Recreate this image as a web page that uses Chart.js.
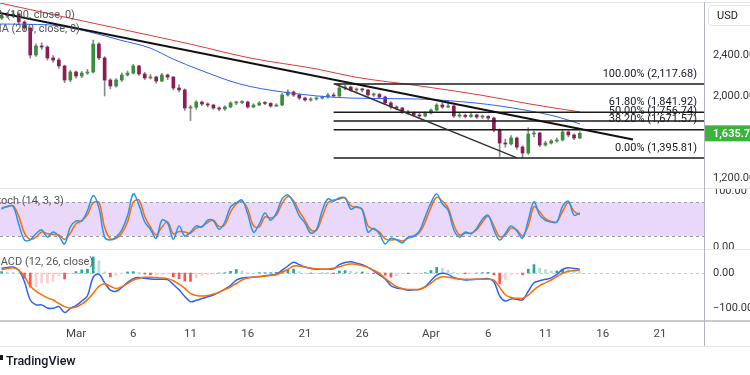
<!DOCTYPE html>
<html>
<head>
<meta charset="utf-8">
<script src="https://cdn.jsdelivr.net/npm/chart.js@4.4.1/dist/chart.umd.min.js"></script>
<style>
  body { margin: 0; background: #fff; font-family: Roboto, "Liberation Sans", sans-serif; }
  #wrap { position: relative; width: 750px; height: 375px; overflow: hidden; background: #fff; }
  canvas { position: absolute; left: 0; }
  .legend { position: absolute; font-size: 11px; color: #555; white-space: nowrap; line-height: 14px; }
  .hline { position: absolute; left: 0; width: 750px; height: 1px; background: #e0e3eb; }
</style>
</head>
<body>
<div id="wrap">
  <canvas id="priceChart" width="750" height="188" style="top:0"></canvas>
  <canvas id="stochChart" width="750" height="61" style="top:188px"></canvas>
  <canvas id="macdChart" width="750" height="97" style="top:249px"></canvas>

  <div class="hline" style="top:2px"></div>
  <div class="hline" style="top:188px"></div>
  <div class="hline" style="top:249px"></div>
  <div class="hline" style="top:320px;height:2px;background:#c9cbd1"></div>
  <div class="hline" style="top:346px"></div>
  <div style="position:absolute;left:704px;top:2px;width:1px;height:344px;background:#b2b5be"></div>

  <div class="legend" style="left:-13px;top:8px">MA (100, close, 0)</div>
  <div class="legend" style="left:-8px;top:22px">MA (200, close, 0)</div>
  <div class="legend" style="left:-9px;top:194px">Stoch (14, 3, 3)</div>
  <div class="legend" style="left:-9px;top:255px">MACD (12, 26, close)</div>

  <div style="position:absolute;left:708px;top:5px;width:50px;height:19px;border:1px solid #e0e3eb;border-radius:4px;font-size:11px;line-height:19px;color:#131722;padding-left:8px">USD</div>

  <div style="position:absolute;left:0;top:355px;width:3px;height:5px;background:#131722"></div>
  <div style="position:absolute;left:6px;top:353px;font-size:12.5px;color:#131722;font-weight:500">TradingView</div>
</div>

<script>
// ETH/USD 12h candles, Feb 22 - Apr 14, with MAs, fib levels, Stoch and MACD panes
const FONT = 'Roboto, "Liberation Sans", sans-serif';

// x axis is in days counted from Mar 1
const X_MIN = -6.64;
const X_MAX = 54.85;
const FIRST_DAY = -6.5;   // first candle
const STEP = 0.5;         // 12h candles

const timeTickDays = [0, 5, 10, 15, 20, 25, 31, 36, 41, 46, 51];
const timeTickLabels = ['Mar', '6', '11', '16', '21', '26', 'Apr', '6', '11', '16', '21'];

const opens = [
  2760, 2780, 2790, 2800, 2722, 2663, 2400, 2488, 2478, 2371,
  2351, 2293, 2156, 2234, 2195, 2224, 2234, 2507, 2371, 2156,
  2098, 2156, 2205, 2224, 2293, 2215, 2176, 2185, 2146, 2205,
  2185, 2078, 2059, 1883, 1890, 1941, 1922, 1912, 1883, 1873,
  1893, 1932, 1936, 1941, 1893, 1912, 1932, 1928, 1902, 1912,
  2010, 2039, 2010, 1980, 1961, 1971, 1980, 1990, 2010, 2000,
  2078, 2088, 2059, 2068, 2059, 2010, 2015, 1990, 1932, 1893,
  1883, 1844, 1834, 1815, 1805, 1834, 1863, 1912, 1893, 1902,
  1805, 1812, 1800, 1815, 1795, 1800, 1785, 1668, 1541, 1532,
  1590, 1502, 1444, 1629, 1639, 1522, 1541, 1561, 1571, 1649,
  1620, 1590
];
const highs = [
  2800, 2815, 2830, 2812, 2735, 2675, 2510, 2520, 2490, 2395,
  2370, 2300, 2250, 2245, 2240, 2260, 2546, 2520, 2385, 2170,
  2170, 2225, 2245, 2310, 2300, 2230, 2210, 2195, 2220, 2215,
  2190, 2110, 2070, 1910, 1955, 1950, 1935, 1920, 1895, 1905,
  1945, 1950, 1955, 1950, 1925, 1945, 1945, 1935, 1925, 2025,
  2060, 2050, 2020, 1990, 1985, 1995, 2000, 2025, 2030, 2118,
  2104, 2095, 2080, 2075, 2065, 2030, 2025, 2000, 1945, 1905,
  1890, 1860, 1845, 1830, 1845, 1875, 1925, 1935, 1950, 1910,
  1830, 1825, 1830, 1825, 1815, 1810, 1795, 1680, 1580, 1615,
  1600, 1515, 1690, 1660, 1645, 1560, 1575, 1590, 1665, 1660,
  1630, 1650
];
const lows = [
  2745, 2765, 2770, 2705, 2640, 2370, 2385, 2455, 2350, 2330,
  2270, 2130, 2140, 2175, 2180, 2210, 2225, 2355, 2000, 2070,
  2085, 2140, 2195, 2215, 2200, 2160, 2165, 2125, 2140, 2160,
  2060, 2040, 1860, 1760, 1870, 1905, 1895, 1870, 1855, 1860,
  1885, 1915, 1925, 1880, 1885, 1905, 1915, 1890, 1895, 1905,
  2000, 1995, 1965, 1950, 1950, 1960, 1970, 1980, 1990, 1995,
  2060, 2045, 2040, 2040, 1995, 1995, 1975, 1920, 1875, 1865,
  1830, 1820, 1800, 1790, 1795, 1825, 1855, 1880, 1885, 1790,
  1790, 1785, 1790, 1780, 1780, 1770, 1650, 1410, 1500, 1520,
  1480, 1396, 1430, 1600, 1505, 1510, 1530, 1550, 1560, 1600,
  1575, 1585
];
const closes = [
  2780, 2790, 2800, 2722, 2663, 2400, 2488, 2478, 2371, 2351,
  2293, 2156, 2234, 2195, 2224, 2234, 2507, 2371, 2156, 2098,
  2156, 2205, 2224, 2293, 2215, 2176, 2185, 2146, 2205, 2185,
  2078, 2059, 1883, 1890, 1941, 1922, 1912, 1883, 1873, 1893,
  1932, 1936, 1941, 1893, 1912, 1932, 1928, 1902, 1912, 2010,
  2039, 2010, 1980, 1961, 1971, 1980, 1990, 2010, 2000, 2078,
  2088, 2059, 2068, 2059, 2010, 2015, 1990, 1932, 1893, 1883,
  1844, 1834, 1815, 1805, 1834, 1863, 1912, 1893, 1902, 1805,
  1812, 1800, 1815, 1795, 1800, 1785, 1668, 1541, 1532, 1590,
  1502, 1444, 1629, 1639, 1522, 1541, 1561, 1571, 1649, 1620,
  1590, 1636
];

// moving averages (read at a few points, smooth curves)
const redMaDays = [-6.64, -1.40, 4.28, 9.96, 15.20, 21.05, 24.37, 30.04, 35.28, 39.65, 44.02];
const redMaValues = [2907, 2780, 2644, 2507, 2371, 2263, 2185, 2098, 2010, 1922, 1844];
const blueMaDays = [-6.64, -2.27, 1.22, 3.84, 6.46, 8.47, 10.83, 14.32, 18.08, 23.93, 29.78, 34.85, 37.03, 39.21, 42.10, 44.02];
const blueMaValues = [2702, 2693, 2624, 2546, 2468, 2361, 2254, 2117, 2039, 1980, 1971, 1932, 1902, 1863, 1795, 1727];

// drawn trendlines
const trendDays = [-6.64, 48.65];
const trendPrices = [2810, 1575];
const channelDays = [22.62, 38.52];
const channelPrices = [2117.68, 1395.81];

// fibonacci retracement
const fibStartDay = 22.5;
const fibLevels = ['100.00%', '61.80%', '50.00%', '38.20%', '0.00%'];
const fibPrices = [2117.68, 1841.92, 1756.74, 1671.57, 1395.81];

const lastPrice = 1635.7;
const priceTicks = [1200, 2000, 2400];

const stochK = [
  68, 73, 73, 41, 13, 13, 24, 31, 18, 27,
  20, 6, 36, 47, 47, 65, 92, 70, 18, 13,
  18, 31, 56, 95, 75, 45, 32, 16, 48, 43,
  14, 38, 20, 27, 38, 36, 48, 47, 32, 45,
  72, 79, 84, 59, 27, 41, 61, 48, 61, 86,
  93, 79, 56, 43, 25, 32, 65, 86, 82, 88,
  88, 68, 72, 66, 27, 34, 24, 6, 16, 13,
  8, 18, 20, 29, 54, 79, 95, 77, 66, 31,
  18, 27, 24, 34, 50, 57, 31, 13, 25, 38,
  29, 16, 48, 81, 57, 48, 45, 45, 73, 82,
  57, 61
];
const stochD = [
  70, 72, 74, 55, 25, 14, 18, 27, 24, 23,
  22, 14, 25, 42, 47, 58, 79, 80, 35, 15,
  16, 25, 45, 80, 84, 55, 36, 22, 36, 45,
  24, 28, 27, 25, 34, 37, 44, 48, 37, 40,
  63, 77, 82, 68, 38, 36, 54, 52, 57, 78,
  90, 83, 64, 48, 31, 30, 54, 79, 84, 86,
  88, 74, 71, 68, 38, 32, 27, 15, 13, 14,
  11, 16, 19, 26, 45, 71, 89, 82, 70, 40,
  22, 25, 25, 31, 45, 55, 38, 19, 22, 34,
  31, 20, 38, 72, 63, 51, 46, 45, 64, 79,
  64, 58
];

const macdLine = [
  13, 16, 17, 8, -25, -77, -91, -91, -100, -101,
  -96, -113, -101, -93, -80, -65, -12, -3, -28, -49,
  -52, -41, -27, -16, -13, -15, -17, -18, -18, -19,
  -33, -48, -67, -82, -78, -73, -68, -63, -55, -46,
  -35, -20, -14, -13, -12, -10, -8, -6, -3, 8,
  20, 31, 24, 17, 13, 11, 11, 11, 12, 24,
  30, 32, 28, 24, 16, 6, -5, -17, -36, -43,
  -45, -49, -48, -47, -39, -22, -6, -1, -4, -13,
  -17, -20, -19, -18, -17, -16, -25, -65, -80, -74,
  -75, -77, -52, -28, -22, -18, -14, -4, 10, 15,
  13, 11
];
const signalLine = [
  9, 13, 15, 8, -10, -37, -52, -62, -71, -77,
  -87, -96, -100, -97, -89, -76, -58, -38, -31, -38,
  -44, -39, -30, -20, -15, -12, -12, -13, -14, -16,
  -22, -32, -44, -58, -64, -66, -64, -60, -55, -47,
  -40, -30, -20, -14, -12, -11, -9, -7, -5, 2,
  10, 20, 20, 17, 14, 12, 11, 11, 14, 18,
  23, 26, 25, 21, 16, 8, -1, -15, -28, -39,
  -44, -47, -47, -46, -40, -29, -17, -11, -12, -15,
  -17, -18, -18, -18, -18, -18, -20, -41, -62, -70,
  -72, -72, -63, -48, -36, -28, -20, -10, -1, 5,
  7, 8
];
const macdHist = [
  4, 3, 2, 0, -15, -40, -39, -29, -29, -24,
  -9, -17, -1, 4, 9, 11, 46, 35, 3, -11,
  -8, -2, 3, 4, 2, -3, -5, -5, -4, -3,
  -11, -16, -23, -24, -14, -7, -4, -3, 0, 1,
  5, 10, 6, 1, 0, 1, 1, 1, 2, 6,
  10, 11, 4, 0, -1, -1, 0, 0, -2, 6,
  7, 6, 3, 3, 0, -2, -4, -6, -12, -8,
  -1, -2, -1, -1, 1, 7, 16, 14, 8, 2,
  0, -2, -1, 0, 1, 2, -5, -30, -18, -4,
  -3, -5, 11, 24, 14, 10, 6, 6, 11, 10,
  6, 3
];

const dayAt = i => FIRST_DAY + i * STEP;
const fmt = v => v.toLocaleString('en-US', { minimumFractionDigits: 2, maximumFractionDigits: 2 });
const series = vals => vals.map((v, i) => ({ x: dayAt(i), y: v }));
const points = (days, vals) => days.map((d, i) => ({ x: d, y: vals[i] }));

function hiddenX() {
  return { type: 'linear', min: X_MIN, max: X_MAX, offset: false, display: false };
}

function rightAxis(min, max, ticks, label) {
  return {
    position: 'right', min: min, max: max,
    grid: { display: false, drawTicks: false },
    border: { display: false },
    ticks: { padding: 9, color: '#333', font: { size: 11, family: FONT }, callback: label },
    afterBuildTicks: s => { s.ticks = ticks.map(v => ({ value: v })); },
    afterFit: s => { s.width = 46; s.paddingTop = 0; s.paddingBottom = 0; }
  };
}

const baseOptions = {
  responsive: false,
  animation: false,
  layout: { padding: 0 },
  plugins: { legend: { display: false }, tooltip: { enabled: false } }
};

// ---- price pane ----
const upColor = '#3b8e3b';
const downColor = '#8b1d52';

const fibLabels = {
  id: 'fibLabels',
  beforeDatasetsDraw(chart) {
    const { ctx, scales: { y } } = chart;
    ctx.save();
    ctx.font = '11px ' + FONT;
    ctx.fillStyle = '#131722';
    ctx.textAlign = 'right';
    ctx.textBaseline = 'middle';
    fibPrices.forEach((p, i) => {
      ctx.fillText(fibLevels[i] + ' (' + fmt(p) + ')', 697, y.getPixelForValue(p) - 10);
    });
    ctx.restore();
  },
  afterDraw(chart) {
    const { ctx, chartArea, scales: { y } } = chart;
    const py = y.getPixelForValue(lastPrice);
    ctx.save();
    ctx.fillStyle = '#3cb43c';
    ctx.fillRect(chartArea.right, py - 8, 46, 16);
    ctx.fillStyle = '#fff';
    ctx.font = '600 11px ' + FONT;
    ctx.textBaseline = 'middle';
    ctx.fillText(fmt(lastPrice), chartArea.right + 9, py + 0.5);
    ctx.restore();
  }
};

const lineStyle = (color, width) => ({
  type: 'line', borderColor: color, borderWidth: width, pointRadius: 0, fill: false
});

new Chart(document.getElementById('priceChart'), {
  type: 'bar',
  data: {
    datasets: [
      Object.assign(lineStyle('#111', 2), { data: points(trendDays, trendPrices), order: 0 }),
      Object.assign(lineStyle('#333', 1.5), { data: points(channelDays, channelPrices), order: 0 }),
      ...fibPrices.map(p => Object.assign(lineStyle('#1a1a1a', 1.5), {
        data: [{ x: fibStartDay, y: p }, { x: X_MAX, y: p }], order: 0
      })),
      Object.assign(lineStyle('#e53935', 1), { data: points(redMaDays, redMaValues), cubicInterpolationMode: 'monotone', order: 1 }),
      Object.assign(lineStyle('#2962ff', 1), { data: points(blueMaDays, blueMaValues), cubicInterpolationMode: 'monotone', order: 1 }),
      {
        type: 'bar',
        data: opens.map((o, i) => ({ x: dayAt(i), y: [o, closes[i]] })),
        backgroundColor: opens.map((o, i) => closes[i] >= o ? upColor : downColor),
        barThickness: 3, minBarLength: 1, grouped: false, order: 2
      },
      {
        type: 'bar',
        data: lows.map((l, i) => ({ x: dayAt(i), y: [l, highs[i]] })),
        backgroundColor: '#8a8a8a',
        barThickness: 1, grouped: false, order: 3
      }
    ]
  },
  options: Object.assign({}, baseOptions, {
    scales: {
      x: hiddenX(),
      y: rightAxis(1102.4, 2936.6, priceTicks, v => fmt(v))
    }
  }),
  plugins: [fibLabels]
});

// ---- stochastic pane ----
const stochBand = [20, 80];
const stochOverlay = {
  id: 'stochOverlay',
  beforeDatasetsDraw(chart) {
    const { ctx, chartArea, scales: { y } } = chart;
    const top = y.getPixelForValue(stochBand[1]);
    const bottom = y.getPixelForValue(stochBand[0]);
    ctx.save();
    ctx.fillStyle = '#ead8fa';
    ctx.fillRect(chartArea.left, top, chartArea.right - chartArea.left, bottom - top);
    ctx.strokeStyle = '#9a9ca4';
    ctx.lineWidth = 1;
    ctx.setLineDash([3, 3]);
    [top, bottom].forEach(py => {
      ctx.beginPath();
      ctx.moveTo(chartArea.left, Math.round(py) + 0.5);
      ctx.lineTo(chartArea.right, Math.round(py) + 0.5);
      ctx.stroke();
    });
    ctx.restore();
  }
};

new Chart(document.getElementById('stochChart'), {
  type: 'line',
  data: {
    datasets: [
      Object.assign(lineStyle('#2196f3', 1.5), { data: series(stochK), tension: 0.35, order: 0 }),
      Object.assign(lineStyle('#ff6d00', 1.5), { data: series(stochD), tension: 0.35, order: 1 })
    ]
  },
  options: Object.assign({}, baseOptions, {
    scales: {
      x: hiddenX(),
      y: rightAxis(-3.14, 105.46, [0, 100], v => fmt(v))
    }
  }),
  plugins: [stochOverlay]
});

// ---- MACD pane ----
const histColors = macdHist.map((v, i) => {
  const prev = i > 0 ? macdHist[i - 1] : 0;
  if (v >= 0) return v >= prev ? '#26a69a' : '#b2dfdb';
  return v < prev ? '#ff5252' : '#ffcdd2';
});

const zeroLine = {
  id: 'zeroLine',
  beforeDatasetsDraw(chart) {
    const { ctx, chartArea, scales: { y } } = chart;
    const py = Math.round(y.getPixelForValue(0)) + 0.5;
    ctx.save();
    ctx.strokeStyle = '#c5c8ce';
    ctx.lineWidth = 1;
    ctx.setLineDash([3, 3]);
    ctx.beginPath();
    ctx.moveTo(chartArea.left, py);
    ctx.lineTo(chartArea.right, py);
    ctx.stroke();
    ctx.restore();
  }
};

new Chart(document.getElementById('macdChart'), {
  type: 'bar',
  data: {
    datasets: [
      Object.assign(lineStyle('#2962ff', 1.5), { data: series(macdLine), tension: 0.35, order: 1 }),
      Object.assign(lineStyle('#ff6d00', 1.5), { data: series(signalLine), tension: 0.35, order: 0 }),
      {
        type: 'bar', data: series(macdHist), backgroundColor: histColors,
        barThickness: 2, grouped: false, order: 2
      }
    ]
  },
  options: Object.assign({}, baseOptions, {
    scales: {
      x: {
        type: 'linear', min: X_MIN, max: X_MAX, offset: false,
        grid: { display: false, drawTicks: false },
        border: { display: false },
        ticks: {
          padding: 6, color: '#444', maxRotation: 0, autoSkip: false,
          font: { size: 11.5, family: FONT },
          callback: (v, i) => timeTickLabels[i]
        },
        afterBuildTicks: s => { s.ticks = timeTickDays.map(v => ({ value: v })); },
        afterFit: s => { s.height = 25; s.paddingLeft = 0; s.paddingRight = 0; }
      },
      y: rightAxis(-137.1, 68.6, [0, -100], v => fmt(v).replace('-', '\u2212'))
    }
  }),
  plugins: [zeroLine]
});
</script>
</body>
</html>
